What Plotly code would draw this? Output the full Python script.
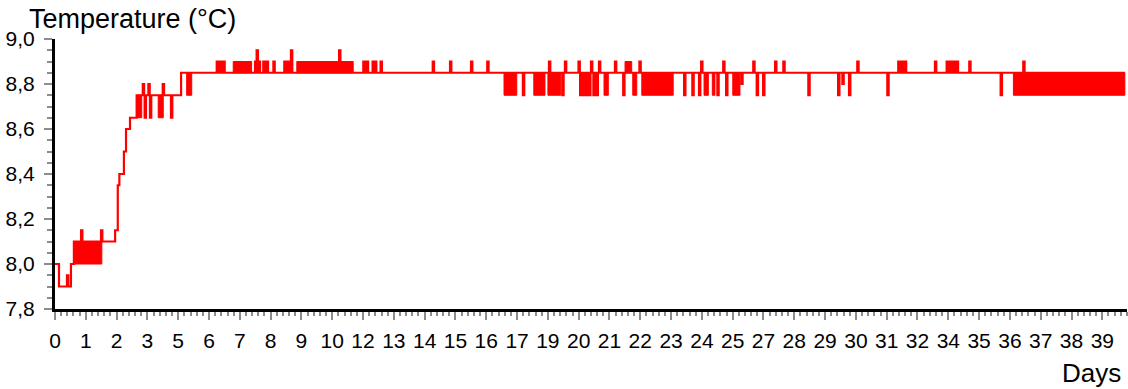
import bisect
import plotly.graph_objects as go

# ---------------- data ----------------
# Baseline temperature levels: day at which each level starts (°C)
base_days = [0.0, 0.15, 0.60, 0.71, 2.26, 2.36, 2.42, 2.59, 2.67, 2.82, 3.07, 4.74]
base_temp = [8.0, 7.9, 8.0, 8.1, 8.15, 8.35, 8.4, 8.5, 8.6, 8.65, 8.75, 8.85]
end_day = 40.22

# Short single-reading excursions from the baseline
blip_days = [0.45, 0.98, 1.73, 3.30, 3.37, 3.51, 3.57, 4.05, 4.36,
             6.08, 6.20, 6.33, 7.52, 7.58, 7.66, 7.83, 7.96, 8.21, 8.62, 8.71, 8.77, 8.87,
             10.68, 11.59, 11.72, 11.94, 12.03, 12.24, 14.20, 14.85, 15.64, 16.25,
             17.59, 18.57, 19.07, 19.17, 19.68, 19.74, 19.87, 19.97, 20.08, 20.15,
             20.24, 20.36, 20.45, 21.05, 21.36, 21.97, 23.65, 23.96, 24.21, 24.29,
             24.90, 25.12, 25.23, 25.80, 26.25, 26.38, 26.62, 27.07, 27.38, 28.32,
             29.44, 29.60, 29.85, 30.16, 31.29, 31.70, 31.83, 31.95, 33.08, 33.52,
             33.58, 33.71, 33.77, 33.90, 34.37, 35.55, 36.40]
blip_temp = [7.95, 8.15, 8.15, 8.8, 8.65, 8.8, 8.65, 8.8, 8.65,
             8.9, 8.9, 8.9, 8.9, 8.95, 8.9, 8.9, 8.9, 8.9, 8.9, 8.9, 8.9, 8.95,
             8.95, 8.9, 8.9, 8.9, 8.9, 8.9, 8.9, 8.9, 8.9, 8.9,
             8.75, 8.9, 8.75, 8.9, 8.9, 8.75, 8.75, 8.75, 8.75, 8.9,
             8.75, 8.75, 8.9, 8.9, 8.75, 8.9, 8.75, 8.75, 8.75, 8.9,
             8.75, 8.9, 8.75, 8.8, 8.9, 8.75, 8.75, 8.9, 8.9, 8.75,
             8.75, 8.8, 8.75, 8.9, 8.75, 8.9, 8.9, 8.9, 8.9, 8.9,
             8.9, 8.9, 8.9, 8.9, 8.9, 8.75, 8.9]

# Periods of rapid flicker between two readings
band_start = [0.71, 3.07, 3.88, 4.95, 6.70, 9.09, 16.88, 18.00, 18.53, 20.64,
              21.43, 21.72, 22.06, 24.40, 24.71, 25.48, 36.03]
band_end = [1.76, 3.26, 4.07, 5.14, 7.39, 11.21, 17.36, 18.42, 19.01, 20.80,
            21.68, 21.87, 23.24, 24.56, 24.81, 25.75, 40.22]
band_low = [8.0, 8.65, 8.65, 8.75, 8.85, 8.85, 8.75, 8.75, 8.75, 8.75,
            8.85, 8.75, 8.75, 8.75, 8.75, 8.75, 8.75]
band_high = [8.1, 8.75, 8.75, 8.85, 8.9, 8.9, 8.85, 8.85, 8.85, 8.85,
             8.9, 8.85, 8.85, 8.85, 8.85, 8.85, 8.85]

# Axis labels
x_tick_labels = ["0", "1", "2", "3", "5", "6", "7", "8", "9", "10", "12", "13",
                 "14", "15", "16", "17", "19", "20", "21", "22", "23", "24", "25",
                 "27", "28", "29", "30", "31", "32", "34", "35", "36", "37", "38", "39"]
y_tick_values = [7.8, 8.0, 8.2, 8.4, 8.6, 8.8, 9.0]

# ---------------- styling / layout constants ----------------
TICK_STEP = 1.158      # spacing of labelled x ticks, in days
BLIP_WIDTH = 0.05      # duration of one excursion, in days
RED = "#ff0000"
GREY = "#8c8c8c"
FONT = "Liberation Sans, Arial, sans-serif"


def base_at(t):
    i = bisect.bisect_right(base_days, t) - 1
    return base_temp[max(i, 0)]


pts = list(zip(base_days, base_temp))
for t, v in zip(blip_days, blip_temp):
    pts.append((t, v))
    pts.append((t + BLIP_WIDTH, base_at(t)))
pts.append((end_day, base_at(end_day)))
pts.sort(key=lambda p: p[0])
line_x = [p[0] for p in pts]
line_y = [p[1] for p in pts]

bx, by = [], []
for s, e, lo, hi in zip(band_start, band_end, band_low, band_high):
    bx += [s, e, e, s, s, None]
    by += [lo, lo, hi, hi, lo, None]

fig = go.Figure()
fig.add_trace(go.Scatter(x=bx, y=by, mode="lines", fill="toself",
                         fillcolor=RED, line=dict(color=RED, width=1),
                         hoverinfo="skip", showlegend=False))
fig.add_trace(go.Scatter(x=line_x, y=line_y, mode="lines",
                         line=dict(color=RED, width=2.2, shape="hv"),
                         showlegend=False))

fig.update_layout(
    width=1128, height=389,
    margin=dict(l=55, r=1, t=39, b=80),
    plot_bgcolor="white", paper_bgcolor="white",
    separators=",.",
    font=dict(family=FONT, size=20, color="black"),
    xaxis=dict(
        range=[0, 40.3],
        tickmode="array",
        tickvals=[i * TICK_STEP for i in range(len(x_tick_labels))],
        ticktext=x_tick_labels,
        ticks="outside", ticklen=8, tickwidth=1.5, tickcolor=GREY,
        showline=True, linecolor="black", linewidth=3,
        showgrid=False, zeroline=False,
        ticklabelstandoff=3,
        tickfont=dict(size=21),
        minor=dict(tickmode="linear", tick0=0, dtick=TICK_STEP / 5,
                   ticks="outside", ticklen=4, tickwidth=1.5, tickcolor=GREY,
                   showgrid=False),
    ),
    yaxis=dict(
        range=[7.8, 9.0],
        tickmode="array", tickvals=y_tick_values, tickformat=".1f",
        ticks="outside", ticklen=8, tickwidth=1.5, tickcolor=GREY,
        showline=True, linecolor="black", linewidth=3,
        showgrid=False, zeroline=False,
        ticklabelstandoff=5,
        tickfont=dict(size=21),
        minor=dict(tickmode="linear", tick0=7.8, dtick=0.05,
                   ticks="outside", ticklen=5, tickwidth=1.5, tickcolor=GREY,
                   showgrid=False),
    ),
    annotations=[
        dict(text="Temperature (°C)", xref="paper", yref="paper",
             x=-0.0261, y=1.074, xanchor="left", yanchor="middle",
             showarrow=False, font=dict(family=FONT, size=27)),
        dict(text="Days", xref="paper", yref="paper",
             x=0.996, y=-0.237, xanchor="right", yanchor="middle",
             showarrow=False, font=dict(family=FONT, size=26)),
    ],
)

fig.write_html("out.html", config={"displayModeBar": False},
               post_script="document.body.style.margin='0';")
